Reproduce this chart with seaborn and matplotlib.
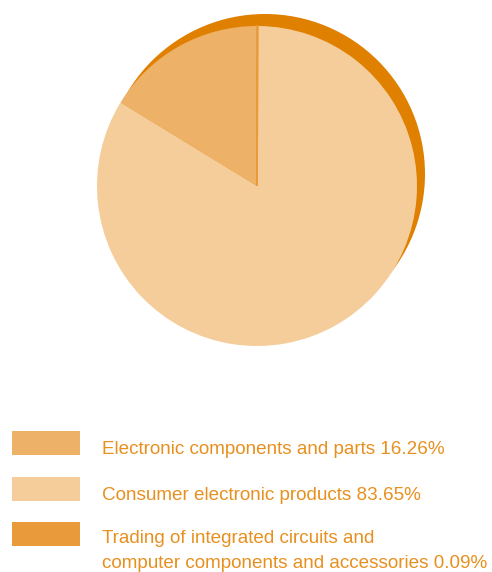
import matplotlib
matplotlib.use("Agg")
import matplotlib.pyplot as plt
import seaborn as sns
from matplotlib.patches import Circle, Rectangle

sns.set_theme(style="white")
plt.rcParams['font.family'] = ['Liberation Sans', 'DejaVu Sans']

categories = ["Electronic components and parts",
              "Consumer electronic products",
              "Trading of integrated circuits and computer components and accessories"]
values = [16.26, 83.65, 0.09]
label_lines = [["Electronic components and parts 16.26%"],
               ["Consumer electronic products 83.65%"],
               ["Trading of integrated circuits and",
                "computer components and accessories 0.09%"]]
colors = ["#EDB168", "#F5CD9B", "#E99A3B"]
shadow_color = "#E08000"
text_color = "#E8901F"

W, H = 492, 572
fig = plt.figure(figsize=(W / 100, H / 100), dpi=100)

def fx(x):
    return x / W

def fy(y):
    return 1 - y / H

# pie axes: center (257,186), radius 160 px
cx, cy, r = 257, 186, 160
pad = 20
ax = fig.add_axes([fx(cx - r - pad), fy(cy + r + pad), (2 * r + 2 * pad) / W, (2 * r + 2 * pad) / H])
ax.set_aspect("equal")
ax.axis("off")

ax.add_patch(Circle((8 / r, 12 / r), 1.0, color=shadow_color, lw=0, zorder=0))
wedges, _ = ax.pie(values, colors=colors, startangle=90, counterclock=True, radius=1.0,
                   wedgeprops=dict(linewidth=0), frame=False)
wedges[2].set_edgecolor(colors[2])
wedges[2].set_linewidth(1.2)
ax.set_xlim(-1 - pad / r, 1 + pad / r)
ax.set_ylim(-1 - pad / r, 1 + pad / r)

# legend
rects = [(431, 455), (477, 501), (522, 546)]
baselines = [[454], [500], [543, 568]]
for (y0, y1), bases, lines, col in zip(rects, baselines, label_lines, colors):
    fig.patches.append(Rectangle((fx(12), fy(y1)), 68 / W, (y1 - y0) / H,
                                 transform=fig.transFigure, color=col, lw=0))
    for base, line in zip(bases, lines):
        fig.text(fx(102), fy(base), line, color=text_color, fontsize=13.6,
                 ha="left", va="baseline")

fig.savefig("out.png", dpi=100)
